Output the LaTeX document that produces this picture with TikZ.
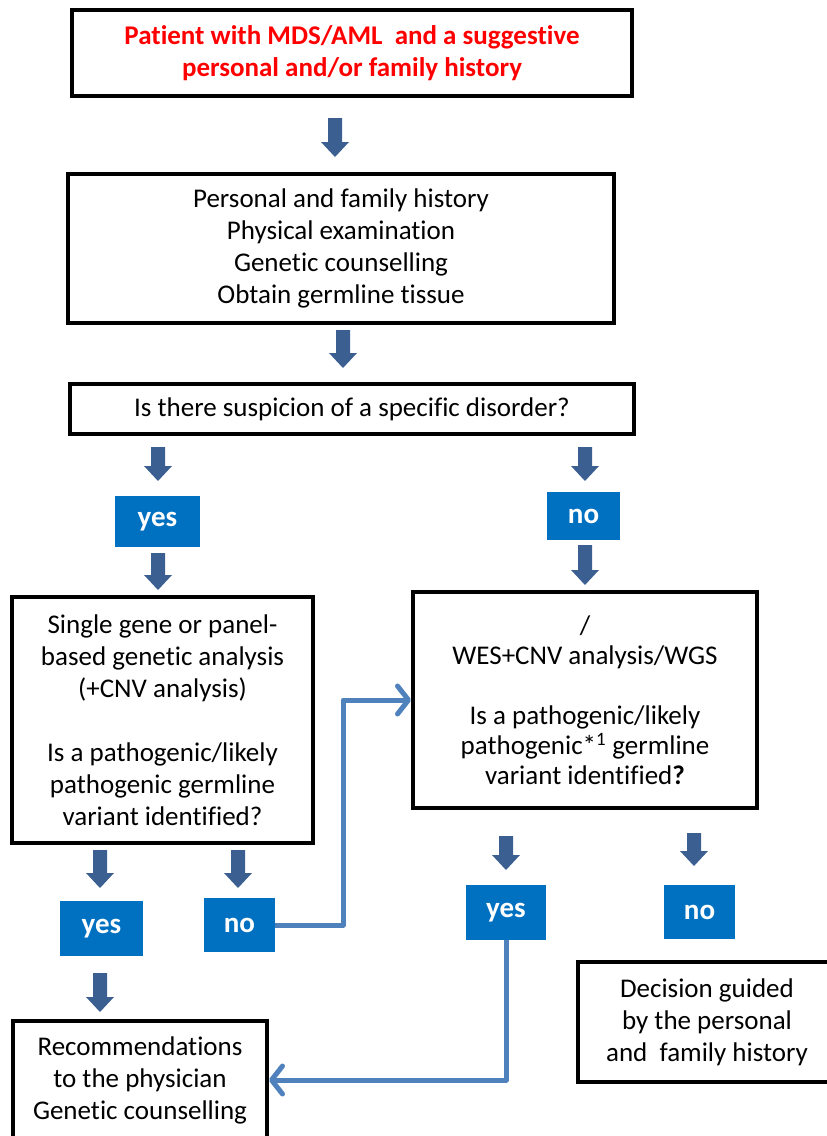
\documentclass[tikz,border=0pt]{standalone}
\usepackage{fontspec}
\setmainfont{Carlito}[Ligatures={NoCommon}]
\usetikzlibrary{arrows.meta}

\definecolor{titlered}{RGB}{255,0,0}
\definecolor{answerblue}{RGB}{0,112,192}
\definecolor{arrowblue}{RGB}{60,95,145}
\definecolor{linkblue}{RGB}{79,129,189}

\begin{document}
\begin{tikzpicture}[
    x=1pt, y=-1pt,
    font=\fontsize{27}{32}\selectfont,
    box/.style={draw, line width=4pt, align=center, inner sep=0pt},
    answer/.style={fill=answerblue, text=white, font=\fontsize{29}{32}\selectfont\bfseries, inner sep=0pt},
    link/.style={linkblue, line width=5pt, line join=round, -{Straight Barb[length=11pt, width=28pt, round]}}
]
\useasboundingbox (0,0) rectangle (827,1136);

% Block arrow: x, top, bottom
\newcommand{\downArrow}[3]{
    \fill[arrowblue] (#1-7,#2) -- (#1+7,#2) -- (#1+7,#3-15) -- (#1+14,#3-15)
        -- (#1,#3) -- (#1-14,#3-15) -- (#1-7,#3-15) -- cycle;
}

% ==========================================
% Start
\node[box, minimum width=560, minimum height=86, text=titlered, font=\fontsize{27}{32}\selectfont\bfseries]
    (patient) at (352,53) {Patient with MDS/AML\ \ and a suggestive\\personal and/or family history};
\downArrow{335}{118}{157}

\node[box, minimum width=546, minimum height=149] (workup) at (341,248.5)
    {Personal and family history\\Physical examination\\Genetic counselling\\Obtain germline tissue};
\downArrow{343}{330}{368}

\node[box, minimum width=564, minimum height=50] (suspicion) at (352,409) {Is there suspicion of a specific disorder?};
\downArrow{158}{447}{481}
\downArrow{585}{447}{481}

\node[answer, minimum width=85, minimum height=51] (yesA) at (157.5,521.5) {yes};
\node[answer, minimum width=73, minimum height=48] (noA) at (583.5,516) {no};
\downArrow{158}{553}{590}
\downArrow{585}{545}{585}

% ==========================================
% Analysis
\node[box, minimum width=301, minimum height=246] (panel) at (162.5,720)
    {Single gene or panel-\\based genetic analysis\\(+CNV analysis)\\[32pt]Is a pathogenic/likely\\pathogenic germline\\variant identified?};
\node[box, minimum width=344, minimum height=216, font=\fontsize{27}{30}\selectfont] (wes) at (585,700)
    {/\\WES+CNV analysis/WGS\\[30pt]Is a pathogenic/likely\\pathogenic*\textsuperscript{1} germline\\variant identified\textbf{?}};

\downArrow{100}{850}{888}
\downArrow{238}{850}{888}
\downArrow{506}{836}{870}
\downArrow{694}{833}{866}

\node[answer, minimum width=83, minimum height=55] (yesB) at (101.5,928.5) {yes};
\node[answer, minimum width=71, minimum height=54] (noB) at (239.5,925) {no};
\node[answer, minimum width=80, minimum height=55] (yesC) at (506,912.5) {yes};
\node[answer, minimum width=71, minimum height=54] (noC) at (699.5,912) {no};
\downArrow{100}{973}{1012}

% ==========================================
% Outcome
\node[box, minimum width=254, minimum height=118] (advice) at (140,1080)
    {Recommendations\\to the physician\\Genetic counselling};
\node[box, minimum width=258, minimum height=120] (decision) at (707,1022)
    {Decision guided\\by the personal\\and\ \ family history};

\coordinate (bendA) at (343,925);
\draw[link] (noB.east) -- (bendA) |- (wes.west);
\draw[link] (yesC.south) |- (advice.east);

\end{tikzpicture}
\end{document}
